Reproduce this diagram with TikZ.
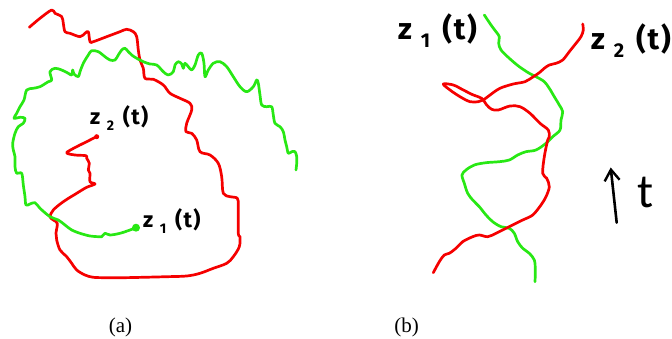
\documentclass[tikz,border=0pt]{standalone}
\usepackage{fontspec}
\setmainfont{Liberation Serif}
\newfontfamily\handfont{Fira Sans}
\newfontfamily\tfont{Carlito}
\usepackage{tikz}
\usetikzlibrary{arrows.meta}

\definecolor{pathred}{RGB}{245,0,0}
\definecolor{pathgreen}{RGB}{40,232,20}

% hand-written style label: index, index size
\newcommand{\zlab}[2]{z\kern0.3em\raisebox{-0.5ex}{\fontsize{#2}{#2}\selectfont #1}\kern0.4em(\kern0.06em t\kern0.06em)}

\begin{document}
\begin{tikzpicture}[
  x=1pt,y=-1pt,
  rpath/.style={pathred,line width=2.7pt,line cap=round,line join=round},
  gpath/.style={pathgreen,line width=2.7pt,line cap=round,line join=round},
  lbl/.style={font=\handfont\bfseries\fontsize{22}{22}\selectfont,inner sep=0pt},
  lblbig/.style={font=\handfont\bfseries\fontsize{30}{30}\selectfont,inner sep=0pt},
  captxt/.style={font=\fontsize{21}{21}\selectfont,inner sep=0pt},
  enddot/.style={circle,inner sep=0pt},
  tarrow/.style={-{Straight Barb[length=11pt,width=15pt,line width=2.4pt]},line width=2.6pt,line cap=round},
]
\useasboundingbox (0,0) rectangle (672,339);

% (a) red path
\draw[rpath] plot[smooth,tension=0.55] coordinates {
  (29.3,27.3) (40,18.3) (51.7,10) (55,13.3) (61.7,16.7) (63.3,23.3) (65,31.7)
  (70,33.3) (80,36.7) (85,33.3) (88.3,31.7) (90,41.7) (93.3,41.7) (106.7,36.7)
  (120,31.7) (126.7,29.3) (133.3,31.7) (136.7,36.7) (138.3,50) (140,60)
  (143.3,68.3) (145,78.3) (153.3,79.3) (163.3,85) (170,93.3) (180,98.3)
  (190,103.3) (191.7,110) (186.7,123.3) (186,131.7) (191.7,133.3) (196.7,140)
  (200,151.7) (210,155) (218.3,163.3) (221.7,176.7) (223.3,193.3) (230,196.7)
  (237.3,198.3) (238.3,206.7) (238.3,233.3) (240,236.7) (239.3,246.7)
  (233.3,256.7) (226.7,263.3) (213.3,268.3) (200,273.3) (186.7,276)
  (166.7,276.7) (143.3,277.3) (123.3,277.7) (106.7,277.7) (93.3,277.3)
  (85,275) (76.7,270) (71.7,263.3) (66.7,256.7) (60,250) (56.7,240) (56,233.3)
  (57.3,223.3) (53.3,220) (50,216.7) (53.3,210) (63.3,201.7) (76.7,193.3)
  (86.7,187.3) (95,184) (90,181.7) (90,173.3) (88.3,170) (89.3,163.3)
  (86.7,158.3) (86,155.7) (75,155) (66.7,152.7) (76.7,146.7) (86.7,141.7)
  (93.3,138.3) (96.7,136.7)};
\node[enddot,fill=pathred,minimum size=5pt] (a2) at (96.7,136.7) {};

% (a) green path
\draw[gpath] plot[smooth,tension=0.55] coordinates {
  (136,227.7) (130,230) (120,233.3) (110,235) (105,233.3) (101.7,236.7)
  (98.3,236.7) (90,236) (80,233.3) (71.7,230) (65,225) (58.3,220) (50,216.7)
  (40,208.3) (35,202.7) (30,204) (26,205) (25,196.7) (23.3,185) (21.7,173.3)
  (16.7,173.3) (15,166.7) (15,156.7) (13.3,150) (12.7,143.3) (15,133.3)
  (18.3,126.7) (23.3,123.3) (25,118.3) (20,117.3) (14,118.3) (16.7,113.3)
  (20,106.7) (24,100) (26.7,90) (33.3,88.3) (40,86.7) (48.3,81.7) (51.7,80)
  (50,71.7) (55,68.3) (61.7,70) (68.3,73.3) (71.7,75) (72.7,70) (74,74)
  (78.3,76.7) (80,71.7) (83.3,63.3) (88.3,55) (91.7,50.7) (98.3,51.7)
  (105,56.7) (110,60) (115,60) (118.3,55) (121.7,50) (125,48.3) (128.3,51.7)
  (131.7,55) (136.7,58.3) (143.3,61.7) (150,64) (156.7,65) (163.3,71.7)
  (168.3,75) (173.3,71.7) (175,65) (178.3,61.7) (181.7,64) (183.3,68.3)
  (185,63.3) (188.3,66.7) (191.7,70) (195,65) (198.3,55) (201.7,53.3)
  (204,63.3) (205,76.7) (208.3,70) (213.3,63.3) (220,61.7) (226.7,66.7)
  (233.3,76.7) (240,86.7) (246.7,91.7) (253.3,86.7) (256.7,80) (258.3,83.3)
  (260,95) (261.7,105) (266.7,106.7) (271.7,106.7) (273.3,115) (275,123.3)
  (280,126.7) (283.3,131.7) (285,140) (286.7,146.7) (288.3,153.3)
  (291.7,151.7) (295,151.7) (296.7,156.7) (296.7,163.3) (296,170)};
\node[enddot,fill=pathgreen,minimum size=8pt] (a1) at (136,227.7) {};

\node[lbl,anchor=west] (za2) at (90,118) {\zlab{2}{14}};
\node[lbl,anchor=west] (za1) at (143,221) {\zlab{1}{14}};

% (b) green path
\draw[gpath] plot[smooth,tension=0.55] coordinates {
  (484.3,15) (491,25) (496,31.7) (499.3,36.7) (498.7,43.3) (501,50)
  (509.3,58.3) (519.3,66.7) (529.3,73.3) (536,76.7) (544.3,81.7) (549.3,88.3)
  (554.3,96.7) (559.3,105) (562.7,111.7) (561,120) (560,130) (552.7,136.7)
  (546,143.3) (536,150) (526,151.7) (517.7,155) (509.3,160) (499.3,161.7)
  (486,162.7) (474.3,165) (466,170) (462,175) (464.3,183.3) (467.7,193.3)
  (472.7,200) (479.3,206.7) (486,215) (492.7,221.7) (501,226.7) (509.3,228.3)
  (514.3,233.3) (517.7,241.7) (522.7,248.3) (529.3,253.3) (534.3,260)
  (535.3,270) (535,281.7)};

% (b) red path
\draw[rpath] plot[smooth,tension=0.55] coordinates {
  (582.7,24) (583.3,30) (581,36.7) (576,43.3) (569.3,51.7) (562.7,60)
  (556,63.3) (549.3,65) (544.3,68.3) (539.3,72.7) (533.3,76.7) (525,81.7)
  (513.3,84) (500,88.3) (490,95) (483.3,100) (478.3,101.7) (470,101.7)
  (460,96.7) (450,90) (443.3,84) (453.3,85) (463.3,90) (473.3,95) (481.7,98.3)
  (486.7,105) (491.7,109.3) (498.3,110) (510,106) (520,106.7) (530,113.3)
  (540,123.3) (548.3,130) (549.3,136.7) (547.7,140) (544.3,156.7)
  (542.7,173.3) (546.7,178.3) (549.3,186.7) (546,196.7) (541,205)
  (532.7,215) (522.7,220) (512.7,225) (506,228.3) (496,233.3) (487.7,236.7)
  (479.3,235) (472.7,236.7) (462.7,241.7) (456,248.3) (449.3,253.3)
  (444.3,255) (439.3,261.7) (433.3,272.7)};

\node[lblbig,anchor=west] (zb1) at (398,31) {\zlab{1}{20}};
\node[lblbig,anchor=east] (zb2) at (671,41) {\zlab{2}{20}};

% time direction
\coordinate (tlow) at (616.7,222.7);
\coordinate (thigh) at (610.7,167.5);
\draw[tarrow] (tlow) -- (thigh);
\node[font=\tfont\fontsize{48}{48}\selectfont,inner sep=0pt] (tlbl) at (646,193) {t};

% captions
\node[captxt] (capa) at (120.5,327) {(a)};
\node[captxt] (capb) at (406.7,327) {(b)};
\end{tikzpicture}
\end{document}
